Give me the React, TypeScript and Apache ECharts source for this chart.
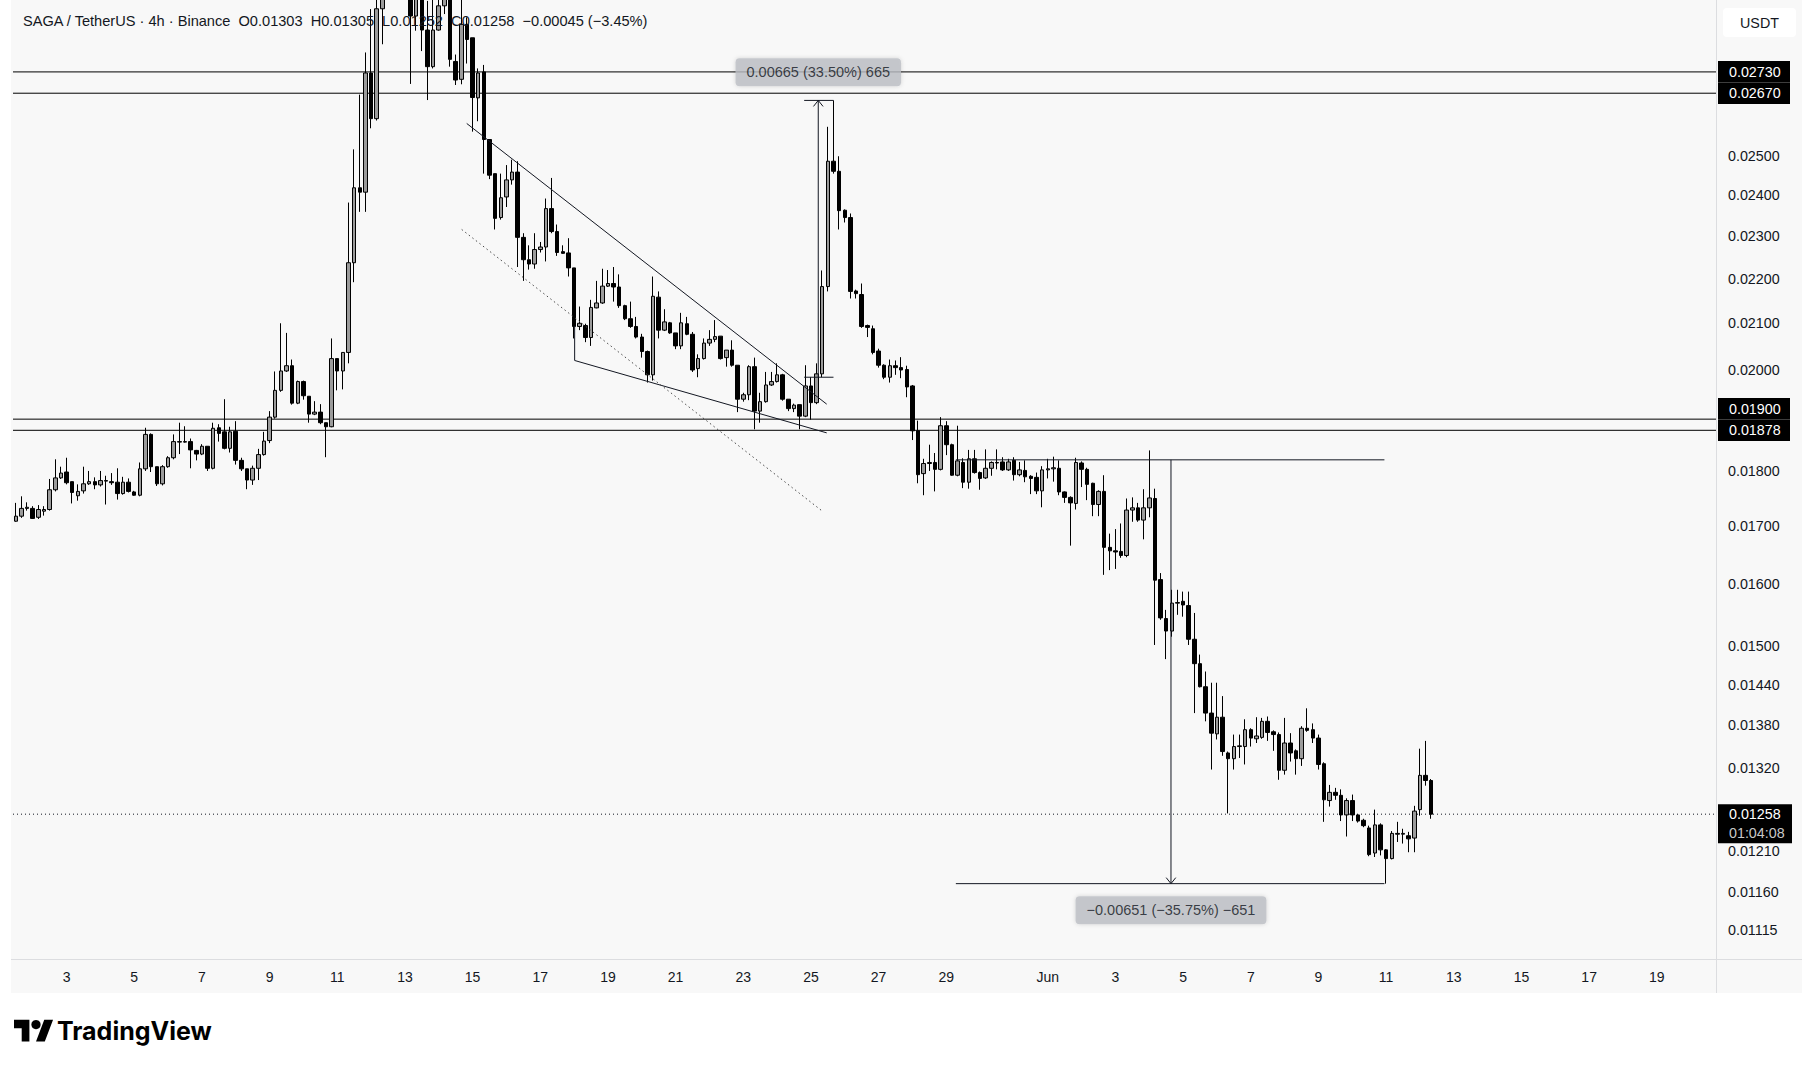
import React, { useEffect, useRef } from 'react';
import * as echarts from 'echarts';

const FONT = "'Liberation Sans', Arial, sans-serif";
const TEXT = '#131722';

// ---- candle data (4h, starting 2024-05-01 12:00) ----
const opens = [
  0.01708, 0.01717, 0.01731, 0.01731, 0.01715, 0.01726, 0.01729, 0.01765, 0.01787, 0.01798,
  0.01780, 0.01754, 0.01763, 0.01776, 0.01780, 0.01774, 0.01782, 0.01780, 0.01779, 0.01758,
  0.01779, 0.01761, 0.01755, 0.01804, 0.01870, 0.01808, 0.01776, 0.01808, 0.01825, 0.01856,
  0.01855, 0.01856, 0.01839, 0.01832, 0.01847, 0.01805, 0.01883, 0.01875, 0.01843, 0.01876,
  0.01820, 0.01804, 0.01783, 0.01805, 0.01831, 0.01858, 0.01904, 0.01958, 0.01998, 0.02009,
  0.01932, 0.01976, 0.01946, 0.01910, 0.01914, 0.01893, 0.01885, 0.02024, 0.01998, 0.02037,
  0.02237, 0.02419, 0.02408, 0.02727, 0.02600, 0.02916, 0.03120, 0.03180, 0.03100, 0.03150,
  0.03050, 0.02894, 0.03000, 0.02852, 0.02745, 0.02852, 0.02925, 0.03000, 0.02760, 0.02709,
  0.02869, 0.02829, 0.02657, 0.02730, 0.02544, 0.02455, 0.02345, 0.02396, 0.02439, 0.02459,
  0.02297, 0.02244, 0.02234, 0.02268, 0.02274, 0.02367, 0.02311, 0.02263, 0.02260, 0.02225,
  0.02093, 0.02095, 0.02069, 0.02134, 0.02145, 0.02183, 0.02189, 0.02181, 0.02139, 0.02110,
  0.02093, 0.02070, 0.02039, 0.01990, 0.02158, 0.02085, 0.02101, 0.02079, 0.02051, 0.02099,
  0.02076, 0.02003, 0.02024, 0.02057, 0.02065, 0.02072, 0.02026, 0.02042, 0.02010, 0.01940,
  0.01949, 0.02007, 0.01916, 0.01935, 0.01969, 0.01976, 0.01990, 0.01940, 0.01921, 0.01929,
  0.01906, 0.01967, 0.01933, 0.01992, 0.02182, 0.02487, 0.02461, 0.02363, 0.02345, 0.02172,
  0.02164, 0.02095, 0.02088, 0.02040, 0.02010, 0.01985, 0.02009, 0.02005, 0.02001, 0.01967,
  0.01877, 0.01795, 0.01814, 0.01816, 0.01803, 0.01887, 0.01850, 0.01792, 0.01816, 0.01779,
  0.01823, 0.01797, 0.01787, 0.01805, 0.01816, 0.01817, 0.01802, 0.01820, 0.01793, 0.01801,
  0.01790, 0.01788, 0.01763, 0.01802, 0.01804, 0.01805, 0.01761, 0.01751, 0.01740, 0.01815,
  0.01803, 0.01777, 0.01738, 0.01762, 0.01662, 0.01656, 0.01655, 0.01648, 0.01728, 0.01732,
  0.01710, 0.01732, 0.01749, 0.01607, 0.01543, 0.01523, 0.01568, 0.01571, 0.01564, 0.01510,
  0.01472, 0.01437, 0.01398, 0.01368, 0.01392, 0.01341, 0.01333, 0.01350, 0.01350, 0.01374,
  0.01361, 0.01363, 0.01386, 0.01371, 0.01367, 0.01317, 0.01355, 0.01344, 0.01333, 0.01376,
  0.01374, 0.01362, 0.01326, 0.01276, 0.01287, 0.01283, 0.01257, 0.01276, 0.01257, 0.01250,
  0.01240, 0.01208, 0.01244, 0.01212, 0.01201, 0.01233, 0.01232, 0.01230, 0.01227, 0.01264,
  0.01310, 0.01303,
];
const highs = [
  0.01741, 0.01753, 0.01742, 0.01735, 0.01737, 0.01735, 0.01785, 0.01822, 0.01808, 0.01825,
  0.01780, 0.01775, 0.01808, 0.01800, 0.01788, 0.01800, 0.01791, 0.01796, 0.01805, 0.01789,
  0.01786, 0.01763, 0.01816, 0.01883, 0.01872, 0.01808, 0.01811, 0.01828, 0.01870, 0.01893,
  0.01886, 0.01862, 0.01840, 0.01851, 0.01847, 0.01893, 0.01890, 0.01940, 0.01885, 0.01896,
  0.01825, 0.01804, 0.01810, 0.01842, 0.01875, 0.01916, 0.01997, 0.02100, 0.02079, 0.02022,
  0.01978, 0.01978, 0.01946, 0.01936, 0.01930, 0.01893, 0.02067, 0.02024, 0.02037, 0.02382,
  0.02518, 0.02666, 0.02786, 0.02915, 0.03000, 0.03180, 0.03250, 0.03300, 0.03220, 0.03200,
  0.03100, 0.03060, 0.03080, 0.02940, 0.02960, 0.02960, 0.03050, 0.03060, 0.02780, 0.02960,
  0.02890, 0.02829, 0.02740, 0.02750, 0.02544, 0.02455, 0.02455, 0.02477, 0.02491, 0.02487,
  0.02307, 0.02278, 0.02307, 0.02286, 0.02392, 0.02444, 0.02328, 0.02278, 0.02295, 0.02225,
  0.02137, 0.02099, 0.02152, 0.02195, 0.02223, 0.02220, 0.02227, 0.02210, 0.02141, 0.02148,
  0.02114, 0.02077, 0.02041, 0.02205, 0.02171, 0.02131, 0.02103, 0.02079, 0.02123, 0.02114,
  0.02081, 0.02033, 0.02067, 0.02085, 0.02107, 0.02072, 0.02042, 0.02063, 0.02010, 0.01953,
  0.02010, 0.02026, 0.01953, 0.01996, 0.01996, 0.02014, 0.01992, 0.01940, 0.01931, 0.01929,
  0.02010, 0.01985, 0.02014, 0.02219, 0.02578, 0.02650, 0.02500, 0.02365, 0.02355, 0.02175,
  0.02189, 0.02097, 0.02095, 0.02045, 0.02012, 0.02022, 0.02020, 0.02027, 0.02009, 0.01969,
  0.01897, 0.01823, 0.01850, 0.01834, 0.01904, 0.01896, 0.01852, 0.01887, 0.01824, 0.01840,
  0.01840, 0.01799, 0.01841, 0.01818, 0.01841, 0.01826, 0.01823, 0.01826, 0.01817, 0.01820,
  0.01792, 0.01797, 0.01809, 0.01823, 0.01827, 0.01820, 0.01762, 0.01753, 0.01825, 0.01818,
  0.01806, 0.01778, 0.01764, 0.01792, 0.01686, 0.01694, 0.01704, 0.01749, 0.01751, 0.01741,
  0.01766, 0.01839, 0.01767, 0.01618, 0.01557, 0.01590, 0.01590, 0.01587, 0.01587, 0.01552,
  0.01486, 0.01460, 0.01443, 0.01443, 0.01423, 0.01343, 0.01367, 0.01367, 0.01389, 0.01376,
  0.01392, 0.01391, 0.01393, 0.01373, 0.01370, 0.01391, 0.01369, 0.01346, 0.01379, 0.01405,
  0.01383, 0.01367, 0.01328, 0.01297, 0.01293, 0.01291, 0.01279, 0.01284, 0.01258, 0.01252,
  0.01243, 0.01264, 0.01246, 0.01213, 0.01236, 0.01248, 0.01239, 0.01235, 0.01269, 0.01347,
  0.01358, 0.01305,
];
const lows = [
  0.01707, 0.01714, 0.01727, 0.01712, 0.01712, 0.01718, 0.01727, 0.01762, 0.01785, 0.01775,
  0.01740, 0.01745, 0.01758, 0.01774, 0.01766, 0.01771, 0.01738, 0.01774, 0.01747, 0.01756,
  0.01760, 0.01754, 0.01753, 0.01800, 0.01798, 0.01772, 0.01773, 0.01806, 0.01822, 0.01832,
  0.01854, 0.01805, 0.01820, 0.01830, 0.01800, 0.01803, 0.01856, 0.01841, 0.01835, 0.01812,
  0.01800, 0.01766, 0.01774, 0.01783, 0.01829, 0.01853, 0.01901, 0.01955, 0.01996, 0.01929,
  0.01930, 0.01939, 0.01893, 0.01908, 0.01890, 0.01826, 0.01884, 0.01958, 0.01960, 0.02014,
  0.02192, 0.02359, 0.02359, 0.02574, 0.02595, 0.02810, 0.03030, 0.03060, 0.03000, 0.02970,
  0.02696, 0.02850, 0.02790, 0.02651, 0.02740, 0.02850, 0.02900, 0.02745, 0.02693, 0.02695,
  0.02754, 0.02565, 0.02593, 0.02455, 0.02441, 0.02316, 0.02340, 0.02371, 0.02427, 0.02227,
  0.02195, 0.02221, 0.02223, 0.02261, 0.02240, 0.02307, 0.02253, 0.02258, 0.02205, 0.02067,
  0.02085, 0.02059, 0.02051, 0.02133, 0.02143, 0.02181, 0.02148, 0.02134, 0.02107, 0.02090,
  0.02067, 0.02026, 0.01974, 0.01978, 0.02067, 0.02083, 0.02077, 0.02044, 0.02044, 0.02074,
  0.01996, 0.01985, 0.02022, 0.02051, 0.02059, 0.02022, 0.02007, 0.02007, 0.01914, 0.01935,
  0.01938, 0.01880, 0.01893, 0.01933, 0.01967, 0.01974, 0.01937, 0.01916, 0.01914, 0.01880,
  0.01904, 0.01899, 0.01930, 0.01985, 0.02171, 0.02455, 0.02316, 0.02333, 0.02155, 0.02155,
  0.02090, 0.02070, 0.02033, 0.02005, 0.01981, 0.01974, 0.01990, 0.01983, 0.01944, 0.01859,
  0.01777, 0.01755, 0.01800, 0.01762, 0.01801, 0.01830, 0.01791, 0.01790, 0.01768, 0.01767,
  0.01795, 0.01765, 0.01785, 0.01791, 0.01803, 0.01800, 0.01800, 0.01782, 0.01790, 0.01779,
  0.01757, 0.01757, 0.01733, 0.01786, 0.01780, 0.01755, 0.01741, 0.01665, 0.01729, 0.01770,
  0.01746, 0.01717, 0.01717, 0.01615, 0.01623, 0.01625, 0.01644, 0.01645, 0.01707, 0.01707,
  0.01676, 0.01715, 0.01501, 0.01541, 0.01479, 0.01514, 0.01549, 0.01546, 0.01501, 0.01398,
  0.01436, 0.01386, 0.01318, 0.01360, 0.01337, 0.01259, 0.01318, 0.01334, 0.01325, 0.01350,
  0.01355, 0.01361, 0.01358, 0.01344, 0.01304, 0.01311, 0.01329, 0.01311, 0.01323, 0.01371,
  0.01355, 0.01318, 0.01248, 0.01268, 0.01277, 0.01249, 0.01229, 0.01249, 0.01247, 0.01241,
  0.01204, 0.01203, 0.01205, 0.01170, 0.01200, 0.01222, 0.01220, 0.01209, 0.01209, 0.01256,
  0.01296, 0.01252,
];
const closes = [
  0.01717, 0.01731, 0.01733, 0.01713, 0.01729, 0.01729, 0.01765, 0.01787, 0.01796, 0.01778,
  0.01760, 0.01762, 0.01776, 0.01780, 0.01774, 0.01782, 0.01781, 0.01778, 0.01758, 0.01779,
  0.01762, 0.01755, 0.01804, 0.01870, 0.01808, 0.01776, 0.01808, 0.01825, 0.01856, 0.01855,
  0.01856, 0.01840, 0.01832, 0.01847, 0.01805, 0.01882, 0.01872, 0.01843, 0.01875, 0.01820,
  0.01804, 0.01783, 0.01805, 0.01831, 0.01857, 0.01904, 0.01958, 0.01998, 0.02009, 0.01932,
  0.01976, 0.01947, 0.01910, 0.01914, 0.01893, 0.01885, 0.02024, 0.01998, 0.02037, 0.02237,
  0.02419, 0.02408, 0.02727, 0.02600, 0.02916, 0.03120, 0.03180, 0.03100, 0.03150, 0.03050,
  0.02894, 0.03000, 0.02852, 0.02745, 0.02852, 0.02925, 0.03000, 0.02766, 0.02707, 0.02869,
  0.02824, 0.02658, 0.02727, 0.02544, 0.02451, 0.02343, 0.02394, 0.02439, 0.02459, 0.02297,
  0.02244, 0.02234, 0.02268, 0.02274, 0.02367, 0.02311, 0.02261, 0.02259, 0.02225, 0.02093,
  0.02100, 0.02069, 0.02135, 0.02145, 0.02183, 0.02189, 0.02181, 0.02139, 0.02110, 0.02093,
  0.02070, 0.02039, 0.01990, 0.02160, 0.02085, 0.02103, 0.02079, 0.02051, 0.02101, 0.02076,
  0.02000, 0.02024, 0.02057, 0.02065, 0.02071, 0.02024, 0.02042, 0.02010, 0.01940, 0.01949,
  0.02007, 0.01916, 0.01935, 0.01969, 0.01976, 0.01990, 0.01940, 0.01921, 0.01928, 0.01906,
  0.01967, 0.01933, 0.01992, 0.02182, 0.02487, 0.02461, 0.02362, 0.02345, 0.02171, 0.02166,
  0.02093, 0.02091, 0.02037, 0.02010, 0.01985, 0.02009, 0.02005, 0.02000, 0.01965, 0.01877,
  0.01793, 0.01814, 0.01816, 0.01803, 0.01887, 0.01850, 0.01792, 0.01819, 0.01779, 0.01823,
  0.01797, 0.01786, 0.01805, 0.01816, 0.01815, 0.01802, 0.01817, 0.01793, 0.01802, 0.01789,
  0.01786, 0.01763, 0.01802, 0.01804, 0.01806, 0.01761, 0.01751, 0.01741, 0.01816, 0.01803,
  0.01775, 0.01738, 0.01762, 0.01662, 0.01656, 0.01654, 0.01648, 0.01728, 0.01732, 0.01710,
  0.01732, 0.01750, 0.01606, 0.01544, 0.01523, 0.01568, 0.01569, 0.01565, 0.01510, 0.01472,
  0.01437, 0.01398, 0.01369, 0.01392, 0.01343, 0.01333, 0.01350, 0.01351, 0.01374, 0.01362,
  0.01365, 0.01386, 0.01370, 0.01367, 0.01317, 0.01355, 0.01341, 0.01333, 0.01376, 0.01373,
  0.01362, 0.01325, 0.01277, 0.01287, 0.01283, 0.01257, 0.01276, 0.01257, 0.01249, 0.01243,
  0.01206, 0.01244, 0.01212, 0.01201, 0.01233, 0.01232, 0.01233, 0.01226, 0.01262, 0.01310,
  0.01303, 0.01258,
];

// ---- time slots (categories) ----
const slotCount = 302;
const firstSlotUtc = Date.UTC(2024, 4, 1, 12);
const pad2 = (n: number) => String(n).padStart(2, '0');
const categories: string[] = Array.from({ length: slotCount }, (_, i) => {
  const d = new Date(firstSlotUtc + i * 4 * 3600 * 1000);
  return `${pad2(d.getUTCMonth() + 1)}-${pad2(d.getUTCDate())} ${pad2(d.getUTCHours())}:00`;
});
const xTickDates = [
  '05-03', '05-05', '05-07', '05-09', '05-11', '05-13', '05-15', '05-17', '05-19', '05-21',
  '05-23', '05-25', '05-27', '05-29', '06-01', '06-03', '06-05', '06-07', '06-09', '06-11',
  '06-13', '06-15', '06-17', '06-19',
];

// ---- price axis ----
const yAxisMin = 0.010815;
const yAxisMax = 0.029367;
const yTickValues = [
  0.025, 0.024, 0.023, 0.022, 0.021, 0.02, 0.018, 0.017, 0.016, 0.015,
  0.0144, 0.0138, 0.0132, 0.0121, 0.0116, 0.01115,
];
const levelPrices = [0.0273, 0.0267, 0.019, 0.01878];
const lastPrice = 0.01258;
const countdown = '01:04:08';
const headerText =
  'SAGA / TetherUS · 4h · Binance  O0.01303  H0.01305  L0.01252  C0.01258  \u22120.00045 (\u22123.45%)';

// ---- drawings (slot index, price) ----
const wedgeUpper = [[79.96, 0.02587], [143.8, 0.0193]];
const wedgeLower = [[99.1, 0.02094], [99.1, 0.0202], [143.8, 0.01873]];
const dottedTrend = [[79.07, 0.02316], [142.9, 0.01727]];
const rangeUp = { left: 139.8, right: 145.0, mid: 142.3, from: 0.01985, to: 0.0265, label: '0.00665 (33.50%) 665', labelPrice: 0.02729 };
const rangeDown = { left: 166.7, right: 242.7, mid: 204.85, from: 0.01821, to: 0.0117, label: '\u22120.00651 (\u221235.75%) \u2212651', labelPrice: 0.01138 };

const tvPath = 'M14 22H7V11H0V4h14v18zM28 22h-8l7.5-18h8L28 22z';
echarts.graphic.registerShape('tvlogo', echarts.graphic.extendPath(tvPath, {}));

function rangeSegments(r: typeof rangeUp) {
  const head = r.to > r.from ? r.to / 1.0063 : r.to * 1.0063;
  return [
    { coords: [[r.left, r.to], [r.right, r.to]] },
    { coords: [[r.left, r.from], [r.right, r.from]] },
    { coords: [[r.mid, r.from], [r.mid, r.to]] },
    { coords: [[r.mid - 0.85, head], [r.mid, r.to], [r.mid + 0.85, head]] },
  ];
}

export default function App() {
  const ref = useRef<HTMLDivElement>(null);
  useEffect(() => {
    if (!ref.current) return;
    const chart = echarts.init(ref.current, undefined, { renderer: 'svg' });
    const candles = opens.map((o, i) => [o, closes[i], lows[i], highs[i]]);
    const xLeft = -0.5;
    const xRight = slotCount - 0.5;
    const option: any = {
      animation: false,
      backgroundColor: '#ffffff',
      grid: { left: 13, right: 99, top: 2, bottom: 110, containLabel: false, outerBoundsMode: 'none' },
      xAxis: [
        {
          type: 'category',
          data: categories,
          boundaryGap: true,
          axisLine: { show: false },
          axisTick: { show: false },
          splitLine: { show: false },
          axisLabel: {
            interval: (_i: number, v: string) => v.endsWith('00:00') && xTickDates.includes(v.slice(0, 5)),
            formatter: (v: string) => (v.startsWith('06-01') ? 'Jun' : String(Number(v.slice(3, 5)))),
            color: TEXT,
            fontSize: 14,
            fontFamily: FONT,
            margin: 11,
          },
        },
        { type: 'value', min: xLeft, max: xRight, show: false },
      ],
      yAxis: {
        type: 'log',
        logBase: 10,
        position: 'right',
        min: yAxisMin,
        max: yAxisMax,
        axisLine: { show: false },
        axisTick: { show: false },
        splitLine: { show: false },
        axisLabel: {
          customValues: yTickValues,
          formatter: (v: number) => v.toFixed(5),
          color: TEXT,
          fontSize: 14.3,
          fontFamily: FONT,
          margin: 12,
        },
      },
      series: [
        {
          type: 'candlestick',
          data: candles,
          barWidth: 4,
          clip: true,
          z: 3,
          itemStyle: { color: '#9b9b9b', color0: '#000000', borderColor: '#000000', borderColor0: '#000000', borderWidth: 1 },
        },
        {
          type: 'lines',
          coordinateSystem: 'cartesian2d',
          xAxisIndex: 1,
          yAxisIndex: 0,
          polyline: true,
          silent: true,
          z: 2,
          lineStyle: { color: '#000000', width: 1, opacity: 1 },
          data: levelPrices.map((v) => ({ coords: [[xLeft, v], [xRight, v]] })),
        },
        {
          type: 'lines',
          coordinateSystem: 'cartesian2d',
          xAxisIndex: 1,
          yAxisIndex: 0,
          polyline: true,
          silent: true,
          z: 2,
          lineStyle: { color: '#131722', width: 1, type: [1, 3], opacity: 1 },
          data: [{ coords: [[xLeft, lastPrice], [xRight, lastPrice]] }],
        },
        {
          type: 'lines',
          coordinateSystem: 'cartesian2d',
          xAxisIndex: 1,
          yAxisIndex: 0,
          polyline: true,
          silent: true,
          z: 4,
          lineStyle: { color: '#131722', width: 1, opacity: 1 },
          data: [{ coords: wedgeUpper }, { coords: wedgeLower }, ...rangeSegments(rangeUp), ...rangeSegments(rangeDown)],
        },
        {
          type: 'lines',
          coordinateSystem: 'cartesian2d',
          xAxisIndex: 1,
          yAxisIndex: 0,
          polyline: true,
          silent: true,
          z: 4,
          lineStyle: { color: '#4a4a4a', width: 1, type: [1.5, 3], opacity: 1 },
          data: [{ coords: dottedTrend }],
        },
        {
          type: 'scatter',
          xAxisIndex: 1,
          yAxisIndex: 0,
          symbolSize: 0,
          silent: true,
          z: 6,
          label: {
            show: true,
            position: 'inside',
            color: TEXT,
            backgroundColor: '#bcbec4',
            borderRadius: 4,
            padding: [7, 11, 6, 11],
            fontSize: 14.5,
            fontFamily: FONT,
            shadowBlur: 4,
            shadowColor: 'rgba(0,0,0,0.18)',
          },
          data: [
            { value: [rangeUp.mid, rangeUp.labelPrice], label: { formatter: rangeUp.label } },
            { value: [rangeDown.mid, rangeDown.labelPrice], label: { formatter: rangeDown.label } },
          ],
        },
      ],
    };
    chart.setOption(option);

    const toY = (p: number) => chart.convertToPixel({ yAxisIndex: 0 }, p) as number;
    const yLast = toY(lastPrice);
    // price tags on the axis: stacked upwards when they would overlap (as TradingView does)
    const boxH = 21.5;
    const tags = levelPrices.map((p) => ({ p, y: toY(p) })).sort((a, b) => b.y - a.y);
    for (let i = 1; i < tags.length; i++) {
      if (tags[i - 1].y - tags[i].y < boxH) tags[i].y = tags[i - 1].y - boxH;
    }
    const levelBoxes: any[] = [];
    tags.forEach(({ p, y }) => {
      levelBoxes.push({ type: 'rect', z: 20, silent: true, shape: { x: 1718, y: y - boxH / 2, width: 72, height: boxH }, style: { fill: '#000000' } });
      levelBoxes.push({
        type: 'text', z: 21, silent: true, x: 1729, y,
        style: { text: p.toFixed(5), fill: '#ffffff', fontSize: 14.3, fontFamily: FONT, textVerticalAlign: 'middle' },
      });
    });

    chart.setOption({
      graphic: {
        elements: [
          { type: 'rect', z: -10, silent: true, shape: { x: 11, y: 0, width: 1791, height: 993 }, style: { fill: '#f8f8f8' } },
          { type: 'line', z: 1, silent: true, shape: { x1: 1716.5, y1: 0, x2: 1716.5, y2: 993 }, style: { stroke: '#dcdde0', lineWidth: 1 } },
          { type: 'line', z: 1, silent: true, shape: { x1: 11, y1: 959.5, x2: 1802, y2: 959.5 }, style: { stroke: '#dcdde0', lineWidth: 1 } },
          {
            type: 'text', z: 20, silent: true, x: 23, y: 21,
            style: { text: headerText, fill: TEXT, fontSize: 14.6, fontFamily: FONT, textVerticalAlign: 'middle' },
          },
          { type: 'rect', z: 20, silent: true, shape: { x: 1723, y: 8, width: 73, height: 29, r: 4 }, style: { fill: '#ffffff' } },
          {
            type: 'text', z: 21, silent: true, x: 1759.5, y: 22.5,
            style: { text: 'USDT', fill: TEXT, fontSize: 14.3, fontFamily: FONT, textAlign: 'center', textVerticalAlign: 'middle' },
          },
          ...levelBoxes,
          { type: 'rect', z: 20, silent: true, shape: { x: 1718, y: yLast - 10, width: 74, height: 39 }, style: { fill: '#000000' } },
          {
            type: 'text', z: 21, silent: true, x: 1729, y: yLast,
            style: { text: lastPrice.toFixed(5), fill: '#ffffff', fontSize: 14.3, fontFamily: FONT, textVerticalAlign: 'middle' },
          },
          {
            type: 'text', z: 21, silent: true, x: 1729, y: yLast + 19,
            style: { text: countdown, fill: '#c8c8c8', fontSize: 14.3, fontFamily: FONT, textVerticalAlign: 'middle' },
          },
          { type: 'tvlogo', z: 20, silent: true, x: 14, y: 1015, scaleX: 1.1, scaleY: 1.2, style: { fill: '#000000' } },
          { type: 'circle', z: 20, silent: true, shape: { cx: 14 + 20 * 1.1, cy: 1015 + 8 * 1.2, r: 4.6 }, style: { fill: '#000000' } },
          {
            type: 'text', z: 20, silent: true, x: 57, y: 1031,
            style: { text: 'TradingView', fill: '#000000', fontSize: 25, fontWeight: 'bold', fontFamily: 'Inter, sans-serif', textVerticalAlign: 'middle' },
          },
        ],
      },
    });
    return () => chart.dispose();
  }, []);
  return (
    <div style={{ position: 'fixed', left: 0, top: 0, width: 1815, height: 1069, background: '#ffffff' }}>
      <div ref={ref} style={{ width: 1815, height: 1069 }} />
    </div>
  );
}
